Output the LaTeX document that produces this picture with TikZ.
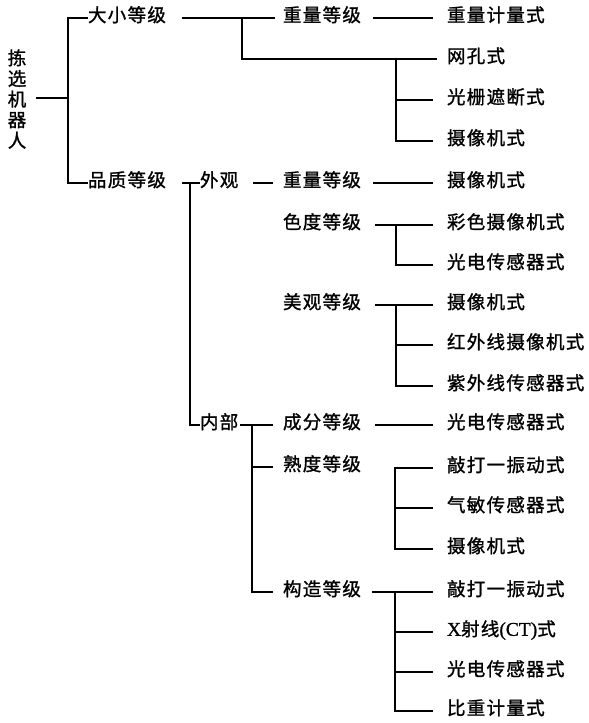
\documentclass[tikz,border=0pt]{standalone}
\usepackage{fontspec}
\setmainfont{Noto Sans CJK SC}[LetterSpace=7,FakeBold=1.2]
\newfontfamily\latinf{Liberation Serif}[FakeBold=1]
\usetikzlibrary{calc}
\begin{document}
\begin{tikzpicture}[x=1pt,y=-1pt,
  lbl/.style={anchor=west,inner sep=0pt,outer sep=0pt,font=\fontsize{18.5}{20}\selectfont,text height=0.83em,text depth=0.07em},
  ln/.style={line width=1.1pt},
  thk/.style={line width=1.9pt}]
\useasboundingbox[fill=white] (0,0) rectangle (589,723);
% root
\node[inner sep=0pt,align=center,font=\fontsize{18.5}{20.6}\selectfont] (root) at (17,99) {拣\\选\\机\\器\\人};
% level 1
\node[lbl] (a1) at (88,18) {大小等级};
\node[lbl] (a2) at (88,183) {品质等级};
% level 2
\node[lbl] (b1) at (283,18) {重量等级};
\node[lbl] (c1) at (200,183) {外观};
\node[lbl] (c2) at (200,425) {内部};
% level 3
\node[lbl] (d1) at (283,183) {重量等级};
\node[lbl] (d2) at (283,225) {色度等级};
\node[lbl] (d3) at (283,305) {美观等级};
\node[lbl] (d4) at (283,425) {成分等级};
\node[lbl] (d5) at (283,467) {熟度等级};
\node[lbl] (d6) at (283,592) {构造等级};
% leaves
\node[lbl] (l1) at (447,18) {重量计量式};
\node[lbl] (l2) at (447,59) {网孔式};
\node[lbl] (l3) at (447,100) {光栅遮断式};
\node[lbl] (l4) at (447,141) {摄像机式};
\node[lbl] (l5) at (447,183) {摄像机式};
\node[lbl] (l6) at (447,225) {彩色摄像机式};
\node[lbl] (l7) at (447,265) {光电传感器式};
\node[lbl] (l8) at (447,305) {摄像机式};
\node[lbl] (l9) at (447,345) {红外线摄像机式};
\node[lbl] (l10) at (447,386) {紫外线传感器式};
\node[lbl] (l11) at (447,425) {光电传感器式};
\node[lbl] (l12) at (447,468) {敲打一振动式};
\node[lbl] (l13) at (447,508) {气敏传感器式};
\node[lbl] (l14) at (447,549) {摄像机式};
\node[lbl] (l15) at (447,592) {敲打一振动式};
\node[lbl] (l16) at (447,632) {{\latinf\fontsize{19.5}{20}\selectfont X}射线{\latinf\fontsize{19.5}{20}\selectfont (CT)}式};
\node[lbl] (l17) at (447,672) {光电传感器式};
\node[lbl] (l18) at (447,711) {比重计量式};
% connectors: root
\coordinate (rj) at (68,98);
\draw[ln] ($(root.east)+(10,-1)$) -- (rj);
\draw[ln] (rj) |- (a1.west);
\draw[ln] (rj) |- (a2.west);
% 大小等级
\coordinate (sj) at (242,18);
\draw[ln] ($(a1.west)+(94,0)$) -- ($(b1.west)+(-8,0)$);
\draw[thk] (sj) |- ($(l2.west)+(-10,0)$);
\draw[ln] ($(b1.west)+(90,0)$) -- ($(l1.west)+(-14,0)$);
\coordinate (gj) at (396,59);
\draw[ln] (gj) |- ($(l4.west)+(-14,0)$);
\draw[ln] (gj |- l3.west) -- ($(l3.west)+(-14,0)$);
% 品质等级
\coordinate (qj) at (190,183);
\draw[ln] ($(a2.west)+(94,0)$) -- (c1.west);
\draw[ln] (qj) |- (c2.west);
\draw[ln] ($(c1.west)+(53,0)$) -- ($(d1.west)+(-10,0)$);
\draw[ln] ($(d1.west)+(90,0)$) -- ($(l5.west)+(-14,0)$);
% 色度等级
\draw[ln] ($(d2.west)+(92,0)$) -- ($(l6.west)+(-14,0)$);
\draw[ln] (396,225) |- ($(l7.west)+(-14,0)$);
% 美观等级
\draw[ln] ($(d3.west)+(92,0)$) -- ($(l8.west)+(-14,0)$);
\draw[ln] (396,305) |- ($(l10.west)+(-14,0)$);
\draw[ln] (396,345) -- ($(l9.west)+(-14,0)$);
% 内部
\coordinate (ij) at (252,425);
\draw[ln] ($(c2.west)+(40,0)$) -- ($(d4.west)+(-10,0)$);
\draw[ln] (ij) |- ($(d6.west)+(-10,0)$);
\draw[ln] (ij |- d5.west) -- ($(d5.west)+(-10,0)$);
\draw[ln] ($(d4.west)+(92,0)$) -- ($(l11.west)+(-14,0)$);
% 熟度等级
\coordinate (mj) at (395,468);
\draw[ln] ($(l12.west)+(-14,0)$) -- (mj) |- ($(l14.west)+(-14,0)$);
\draw[ln] (mj |- l13.west) -- ($(l13.west)+(-14,0)$);
% 构造等级
\coordinate (kj) at (395,592);
\draw[ln] ($(d6.west)+(89,0)$) -- ($(l15.west)+(-14,0)$);
\draw[ln] (kj) |- ($(l18.west)+(-14,0)$);
\draw[ln] (kj |- l16.west) -- ($(l16.west)+(-14,0)$);
\draw[ln] (kj |- l17.west) -- ($(l17.west)+(-14,0)$);
\end{tikzpicture}
\end{document}
